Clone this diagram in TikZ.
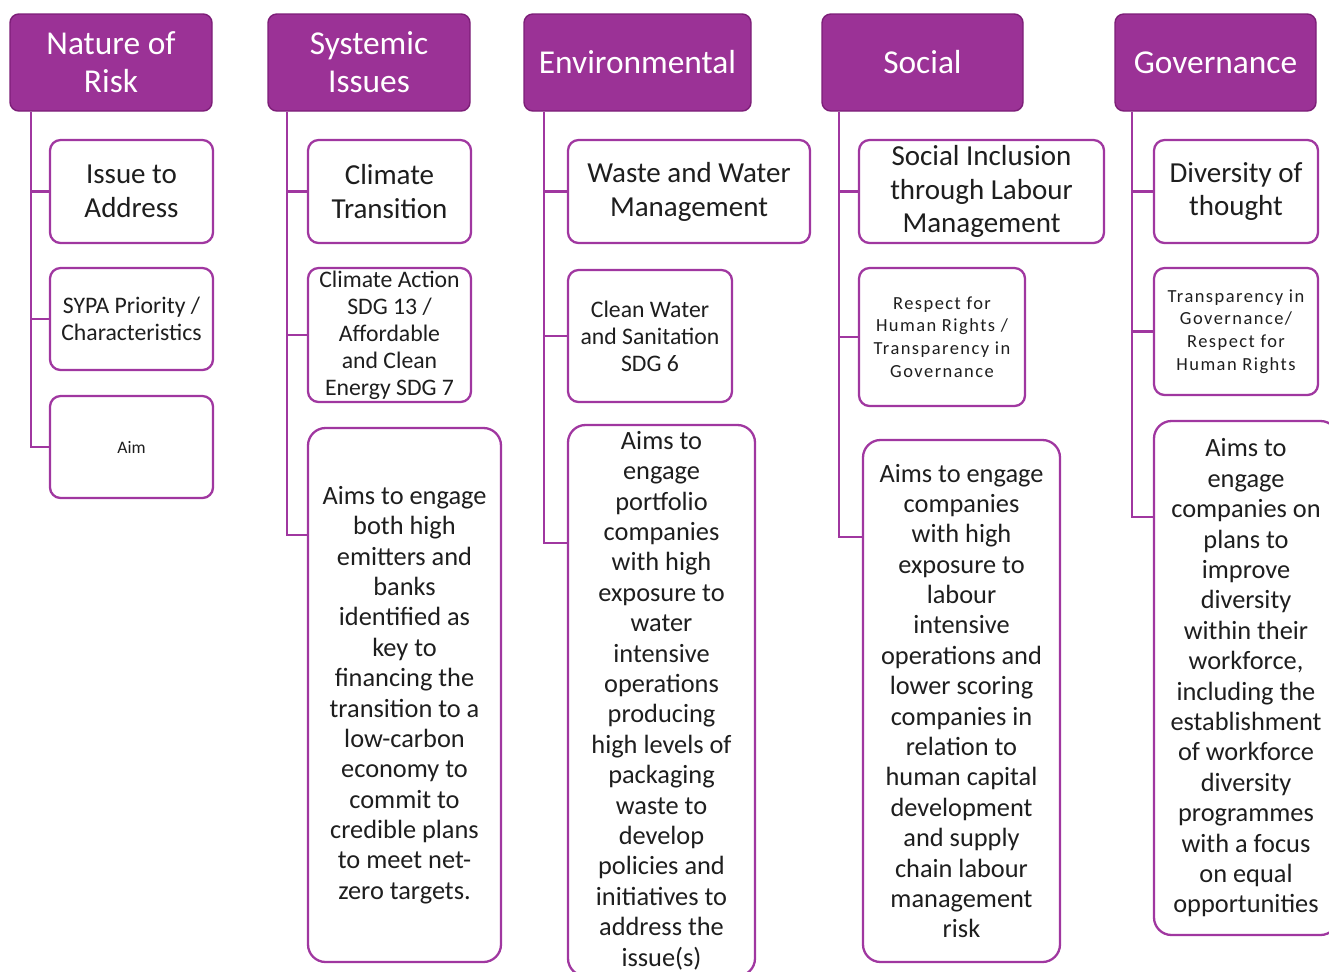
\documentclass[tikz,border=0pt]{standalone}
\usepackage{fontspec}
\setmainfont{Carlito}
\usepackage{xcolor}
\usepackage{tikz}
\usetikzlibrary{positioning,calc}
\definecolor{pHead}{RGB}{155,50,150}
\definecolor{pEdge}{RGB}{125,30,120}
\definecolor{pLine}{RGB}{160,55,160}
\definecolor{pText}{RGB}{30,30,30}
\tikzset{
  hdr/.style={rectangle, rounded corners=5pt, draw=pEdge, fill=pHead,
              text=white, align=center, inner sep=0pt, line width=0.8pt,
              font=\fontsize{19}{21.6}\selectfont},
  card/.style={rectangle, rounded corners=6pt, draw=pLine, fill=white,
               text=pText, align=center, inner sep=0pt, line width=1.3pt,
               font=\fontsize{16.5}{19.3}\selectfont},
  aimbox/.style={card, rounded corners=10pt,
                 font=\fontsize{15}{17.3}\selectfont},
  fmid/.style={font=\fontsize{13.5}{15.4}\selectfont},
  fsmall/.style={font=\fontsize{10.5}{13}\selectfont\addfontfeature{LetterSpace=8}},
  ftiny/.style={font=\fontsize{10}{12}\selectfont},
  link/.style={draw=pLine, line width=1.2pt},
}
% [style]{name}{x1}{y1}{x2}{y2}{text}, in pixels of the sheet
\newcommand{\Card}[7][card]{%
  \node[#1, minimum width={(#5-#3)*0.02cm}, minimum height={(#6-#4)*0.02cm}]
    (#2) at ({(#3+#5)/2},{(#4+#6)/2}) {#7};}

\begin{document}
\begin{tikzpicture}[x=0.02cm, y=-0.02cm]
  \useasboundingbox (0,0) rectangle (1329,971);

  % ===== Nature of Risk ================================================
  \Card[hdr]{hN}{10}{14}{212}{111}{Nature of\\Risk}
  \Card{n1}{50}{140}{213}{243}{Issue to\\Address}
  \Card[card,fmid]{n2}{50}{268}{213}{370}{SYPA Priority /\\Characteristics}
  \Card[card,ftiny]{n3}{50}{396}{213}{498}{Aim}

  % ===== Systemic Issues ===============================================
  \Card[hdr]{hS}{268}{14}{470}{111}{Systemic\\Issues}
  \Card{s1}{308}{140}{471}{243}{Climate\\Transition}
  \Card[card,fmid]{s2}{308}{268}{471}{402}{Climate Action\\SDG 13 /\\Affordable\\and Clean\\Energy SDG 7}
  \Card[aimbox]{s3}{308}{428}{501}{962}{Aims to engage\\both high\\emitters and\\banks\\identified as\\key to\\financing the\\transition to a\\low-carbon\\economy to\\commit to\\credible plans\\to meet net-\\zero targets.}
  \coordinate (s3in) at (308,535);

  % ===== Environmental =================================================
  \Card[hdr]{hE}{524}{14}{751}{111}{Environmental}
  \Card{e1}{568}{140}{810}{243}{Waste and Water\\Management}
  \Card[card,fmid]{e2}{568}{270}{732}{402}{Clean Water\\and Sanitation\\SDG 6}
  \Card[aimbox]{e3}{568}{425}{755}{976}{Aims to\\engage\\portfolio\\companies\\with high\\exposure to\\water\\intensive\\operations\\producing\\high levels of\\packaging\\waste to\\develop\\policies and\\initiatives to\\address the\\issue(s)}
  \coordinate (e3in) at (568,543);

  % ===== Social ========================================================
  \Card[hdr]{hC}{822}{14}{1023}{111}{Social}
  \Card{c1}{859}{140}{1104}{243}{Social Inclusion\\through Labour\\Management}
  \Card[card,fsmall]{c2}{859}{268}{1025}{406}{Respect for\\Human Rights /\\Transparency in\\Governance}
  \Card[aimbox]{c3}{863}{440}{1060}{962}{Aims to engage\\companies\\with high\\exposure to\\labour\\intensive\\operations and\\lower scoring\\companies in\\relation to\\human capital\\development\\and supply\\chain labour\\management\\risk}
  \coordinate (c3in) at (863,537);

  % ===== Governance ====================================================
  \Card[hdr]{hG}{1115}{14}{1316}{111}{Governance}
  \Card{g1}{1154}{140}{1318}{243}{Diversity of\\thought}
  \Card[card,fsmall]{g2}{1154}{268}{1318}{395}{Transparency in\\Governance/\\Respect for\\Human Rights}
  \Card[aimbox]{g3}{1154}{421}{1338}{935}{Aims to\\engage\\companies on\\plans to\\improve\\diversity\\within their\\workforce,\\including the\\establishment\\of workforce\\diversity\\programmes\\with a focus\\on equal\\opportunities}
  \coordinate (g3in) at (1154,517);

  % ===== Trunks and branches ===========================================
  \draw[link] ($(hN.south west)+(22,0)$) coordinate (tN) |- (n3.west);
  \draw[link] (tN |- n1.west) -- (n1.west);
  \draw[link] (tN |- n2.west) -- (n2.west);

  \draw[link] ($(hS.south west)+(20,0)$) coordinate (tS) |- (s3in);
  \draw[link] (tS |- s1.west) -- (s1.west);
  \draw[link] (tS |- s2.west) -- (s2.west);

  \draw[link] ($(hE.south west)+(21,0)$) coordinate (tE) |- (e3in);
  \draw[link] (tE |- e1.west) -- (e1.west);
  \draw[link] (tE |- e2.west) -- (e2.west);

  \draw[link] ($(hC.south west)+(18,0)$) coordinate (tC) |- (c3in);
  \draw[link] (tC |- c1.west) -- (c1.west);
  \draw[link] (tC |- c2.west) -- (c2.west);

  \draw[link] ($(hG.south west)+(18,0)$) coordinate (tG) |- (g3in);
  \draw[link] (tG |- g1.west) -- (g1.west);
  \draw[link] (tG |- g2.west) -- (g2.west);

\end{tikzpicture}
\end{document}
